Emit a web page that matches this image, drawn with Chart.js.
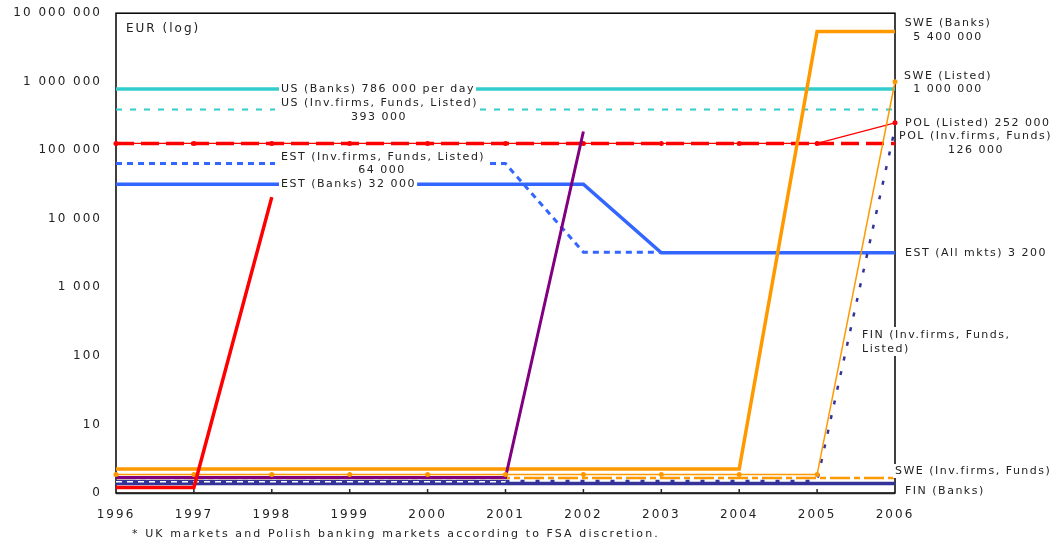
<!DOCTYPE html>
<html>
<head>
<meta charset="utf-8">
<script src="https://cdn.jsdelivr.net/npm/chart.js@4/dist/chart.umd.min.js"></script>
<style>
html,body{margin:0;padding:0;background:#fff;}
canvas{display:block;}
</style>
</head>
<body>
<canvas id="c" width="1056" height="545"></canvas>
<script>
// ---- data ----
const years = ['1996','1997','1998','1999','2000','2001','2002','2003','2004','2005','2006'];
const yTickValues = [1,10,100,1000,10000,100000,1000000,10000000];
const sweBanks  = [2.24,2.24,2.24,2.24,2.24,2.24,2.24,2.24,2.24,5400000,5400000];
const sweListed = [1.86,1.86,1.86,1.86,1.86,1.86,1.86,1.86,1.86,1.86,1000000];
const sweInv    = [1.66,1.66,1.66,1.66,1.66,1.66,1.66,1.66,1.66,1.66,1.66];
const purpleLine= [1.68,1.68,1.68,1.68,1.68,1.68,188000,null,null,null,null];
const redLine   = [1.2,1.2,20700,null,null,null,null,null,null,null,null];
const finBanks  = [1.38,1.38,1.38,1.38,1.38,1.38,1.38,1.38,1.38,1.38,1.38];
const finInv    = [1.5,1.5,1.5,1.5,1.5,1.5,1.5,1.5,1.5,1.5,210000];
const whiteDash = [1.46,1.46,1.46,1.46,1.46,1.46,null,null,null,null,null];
const polListed = [126000,126000,126000,126000,126000,126000,126000,126000,126000,126000,252000];
const polInv    = [126000,126000,126000,126000,126000,126000,126000,126000,126000,126000,126000];
const usBanks   = [786000,786000,786000,786000,786000,786000,786000,786000,786000,786000,786000];
const usInv     = [393000,393000,393000,393000,393000,393000,393000,393000,393000,393000,393000];
const estInv    = [64000,64000,64000,64000,64000,64000,3250,3250,null,null,null];
const estBanks  = [32000,32000,32000,32000,32000,32000,32000,3200,3200,3200,3200];

const FONT = '"DejaVu Sans", Verdana, sans-serif';
const TXT = '#222';
const ORANGE = '#FF9900', PURPLE = '#800080', RED = '#FF0000', NAVY = '#333399', TEAL = '#33CCCC', BLUE = '#3366FF';

function ds(data, color, width, extra) {
  return Object.assign({data, borderColor: color, backgroundColor: color, borderWidth: width,
    pointRadius: 0, fill: false, tension: 0, borderCapStyle: 'butt'}, extra || {});
}

const datasets = [
  ds(redLine, RED, 3.5),
  ds(sweListed, ORANGE, 1.5, {pointRadius: 2.5, pointBorderWidth: 0}),
  ds(purpleLine, PURPLE, 3),
  ds(whiteDash, '#FFFFFF', 1.5, {borderDash: [6,5]}),
  ds(finInv, NAVY, 2.5, {segment: {borderDash: c => c.p0DataIndex < 5 ? [] : [4,11]}}),
  ds(finBanks, NAVY, 3.5),
  ds(sweInv, ORANGE, 2.5, {borderDash: [20,4,6,4]}),
  ds(sweBanks, ORANGE, 3.5),
  ds(estBanks, BLUE, 3.5),
  ds(estInv, BLUE, 3, {borderDash: [6,5]}),
  ds(polListed, RED, 1.3, {pointRadius: 2.5, pointBorderWidth: 0}),
  ds(polInv, RED, 3.5, {borderDash: [18,7]}),
  ds(usBanks, TEAL, 3.5),
  ds(usInv, TEAL, 2, {borderDash: [6,8]})
];

function fmt(v) {
  if (v === 1) return '0';
  return String(v).replace(/\B(?=(\d{3})+(?!\d))/g, ' ');
}

function txt(ctx, s, x, y, align, opts) {
  opts = opts || {};
  ctx.save();
  ctx.font = (opts.size || 11) + 'px ' + FONT;
  ctx.letterSpacing = (opts.ls || 1.5) + 'px';
  ctx.textBaseline = 'middle';
  ctx.textAlign = align || 'left';
  const w = ctx.measureText(s).width;
  if (opts.bg) {
    let x0 = align === 'center' ? x - w/2 : (align === 'right' ? x - w : x);
    ctx.fillStyle = '#fff';
    ctx.fillRect(x0 - 2, y - 7, w + 3, 14);
  }
  ctx.fillStyle = TXT;
  ctx.fillText(s, x, y);
  ctx.restore();
}

const spacingPlugin = {
  id: 'spacing',
  beforeLayout(chart) { chart.ctx.letterSpacing = '2px'; },
  beforeDraw(chart) { chart.ctx.letterSpacing = '2px'; }
};

const framePlugin = {
  id: 'frame',
  beforeDatasetsDraw(chart) {
    const {ctx, chartArea: a, scales: {x}} = chart;
    ctx.save();
    ctx.strokeStyle = '#000';
    ctx.lineWidth = 1.5;
    ctx.strokeRect(a.left, a.top, a.right - a.left, a.bottom - a.top);
    ctx.strokeStyle = '#222';
    ctx.beginPath();
    ctx.moveTo(a.left, a.bottom + 0.5); ctx.lineTo(a.right, a.bottom + 0.5);
    for (let i = 1; i < years.length - 1; i++) {
      const px = x.getPixelForValue(i);
      ctx.moveTo(px, a.bottom); ctx.lineTo(px, a.bottom - 4);
    }
    ctx.stroke();
    ctx.restore();
  }
};

const labelPlugin = {
  id: 'labels',
  afterDatasetsDraw(chart) {
    const {ctx, chartArea: a, scales: {x, y}} = chart;
    const R = a.right;
    const L = a.left;
    txt(ctx, 'EUR (log)', L + 10, 29, 'left', {size: 12, ls: 2});
    const ix = L + 165;
    const yUS = y.getPixelForValue(786000);
    txt(ctx, 'US (Banks) 786 000 per day', ix, yUS, 'left', {bg: true});
    ctx.save(); ctx.fillStyle = '#fff'; ctx.fillRect(ix - 6, yUS + 8, 203, 34); ctx.restore();
    txt(ctx, 'US (Inv.firms, Funds, Listed)', ix, yUS + 14, 'left');
    txt(ctx, '393 000', ix + 98, yUS + 28, 'center');
    const yEI = y.getPixelForValue(64000);
    ctx.save(); ctx.fillStyle = '#fff'; ctx.fillRect(ix - 6, yEI - 8, 210, 22); ctx.restore();
    txt(ctx, 'EST (Inv.firms, Funds, Listed)', ix, yEI - 6, 'left');
    txt(ctx, '64 000', ix + 101, yEI + 7, 'center');
    txt(ctx, 'EST (Banks) 32 000', ix, y.getPixelForValue(32000), 'left', {bg: true});
    const rx = R + 10;
    const ySB = y.getPixelForValue(5400000);
    txt(ctx, 'SWE (Banks)', rx + 43, ySB - 8, 'center');
    txt(ctx, '5 400 000', rx + 43, ySB + 6, 'center');
    const ySL = y.getPixelForValue(1000000);
    txt(ctx, 'SWE (Listed)', rx + 43, ySL - 6, 'center');
    txt(ctx, '1 000 000', rx + 43, ySL + 7, 'center');
    txt(ctx, 'POL (Listed) 252 000', rx, y.getPixelForValue(252000), 'left');
    const yPI = y.getPixelForValue(126000);
    txt(ctx, 'POL (Inv.firms, Funds)', R + 4, yPI - 7, 'left', {bg: true});
    txt(ctx, '126 000', R + 81, yPI + 7, 'center');
    txt(ctx, 'EST (All mkts) 3 200', rx, y.getPixelForValue(3200), 'left');
    ctx.save(); ctx.fillStyle = '#fff'; ctx.fillRect(R - 35, 327, 155, 29); ctx.restore();
    txt(ctx, 'FIN (Inv.firms, Funds,', R - 33, 335, 'left');
    txt(ctx, 'Listed)', R - 33, 349, 'left');
    txt(ctx, 'SWE (Inv.firms, Funds)', R, 471, 'left', {bg: true});
    txt(ctx, 'FIN (Banks)', rx, 491, 'left');
    txt(ctx, '* UK markets and Polish banking markets according to FSA discretion.', L + 16, 534, 'left', {ls: 2.1});
  }
};

new Chart(document.getElementById('c'), {
  type: 'line',
  data: {labels: years, datasets},
  plugins: [spacingPlugin, framePlugin, labelPlugin],
  options: {
    responsive: false,
    animation: false,
    events: [],
    layout: {padding: {left: 0, right: 161, top: 7, bottom: 0}},
    plugins: {legend: {display: false}, tooltip: {enabled: false}, title: {display: false}},
    scales: {
      x: {
        type: 'category',
        offset: false,
        grid: {display: false},
        border: {display: false},
        ticks: {color: TXT, font: {family: FONT, size: 12}, padding: 7, maxRotation: 0, autoSkip: false},
        afterFit(s) { s.height = 52; }
      },
      y: {
        type: 'logarithmic',
        min: 1,
        max: 10000000,
        grid: {display: false},
        border: {display: false},
        afterBuildTicks(s) { s.ticks = yTickValues.map(v => ({value: v, major: true})); },
        ticks: {color: TXT, font: {family: FONT, size: 12}, padding: 6, callback: v => fmt(v)},
        afterFit(s) { s.width = 116; }
      }
    }
  }
});
</script>
</body>
</html>
